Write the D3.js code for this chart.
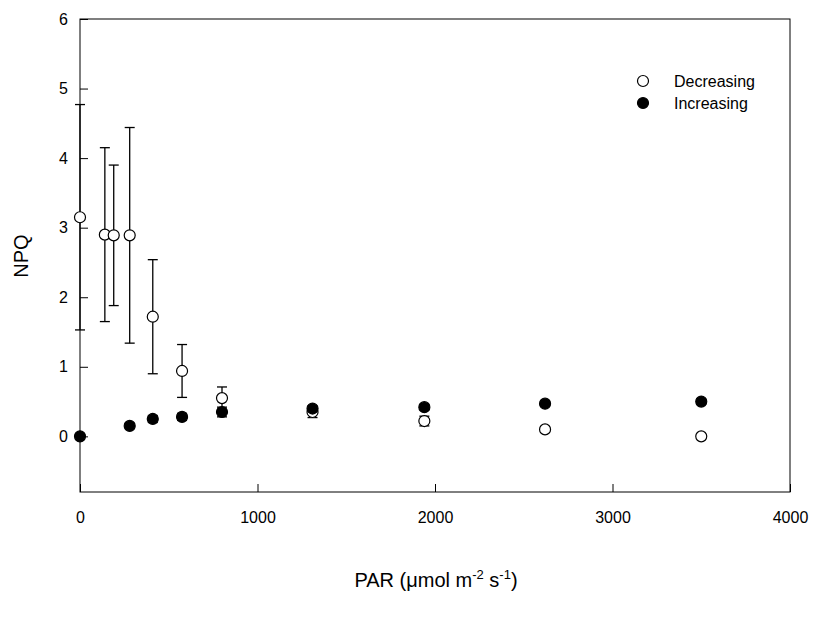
<!DOCTYPE html>
<html><head><meta charset="utf-8">
<script src="https://cdn.jsdelivr.net/npm/d3@7"></script>
<style>body{margin:0;background:#fff}text{font-family:Arial,"Liberation Sans",sans-serif}</style>
</head><body><svg id="chart" width="813" height="619"></svg>
<script>
// data
const decX = [0, 140, 190, 280, 410, 575, 800, 1310, 1940, 2620, 3500];
const decY = [3.15, 2.9, 2.89, 2.89, 1.72, 0.94, 0.55, 0.35, 0.22, 0.1, 0.0];
const decErr = [1.62, 1.25, 1.01, 1.55, 0.82, 0.38, 0.16, 0.08, 0.07, 0.03, 0.0];
const incX = [0, 280, 410, 575, 800, 1310, 1940, 2620, 3500];
const incY = [0.0, 0.15, 0.25, 0.28, 0.35, 0.4, 0.42, 0.47, 0.5];
const incErr = [0.0, 0.04, 0.05, 0.05, 0.07, 0.04, 0.04, 0.04, 0.04];
const xTicks = [0, 1000, 2000, 3000, 4000];
const yTicks = [0, 1, 2, 3, 4, 5, 6];

const svg = d3.select("#chart");
const x = d3.scaleLinear().domain([0, 4000]).range([80, 790]);
const y = d3.scaleLinear().domain([-0.8, 6]).range([492, 19]);

// frame
svg.append("rect").attr("x", 80).attr("y", 19).attr("width", 710).attr("height", 473)
  .attr("fill", "none").attr("stroke", "#000").attr("stroke-width", 1);

svg.append("g").attr("transform", "translate(0,492)")
  .call(d3.axisBottom(x).tickValues(xTicks).tickSize(-8).tickPadding(20).tickFormat(d3.format("d")))
  .call(g => g.select(".domain").remove())
  .selectAll("text").style("font-size", "16px").attr("fill", "#000");
svg.append("g").attr("transform", "translate(80,0)")
  .call(d3.axisLeft(y).tickValues(yTicks).tickSize(-8).tickPadding(12).tickFormat(d3.format("d")))
  .call(g => g.select(".domain").remove())
  .selectAll("text").style("font-size", "16px").attr("fill", "#000");

const dec = decX.map((v, i) => ({x: v, y: decY[i], e: decErr[i]}));
const inc = incX.map((v, i) => ({x: v, y: incY[i], e: incErr[i]}));

function errorBars(data) {
  const g = svg.append("g").attr("stroke", "#000").attr("stroke-width", 1.3);
  data.filter(d => d.e > 0).forEach(d => {
    const cx = x(d.x), y1 = y(d.y - d.e), y2 = y(d.y + d.e);
    g.append("line").attr("x1", cx).attr("x2", cx).attr("y1", y1).attr("y2", y2);
    g.append("line").attr("x1", cx - 5).attr("x2", cx + 5).attr("y1", y1).attr("y2", y1);
    g.append("line").attr("x1", cx - 5).attr("x2", cx + 5).attr("y1", y2).attr("y2", y2);
  });
}
errorBars(dec);
errorBars(inc);

svg.append("g").selectAll("circle").data(dec).join("circle")
  .attr("cx", d => x(d.x)).attr("cy", d => y(d.y)).attr("r", 5.5)
  .attr("fill", "#fff").attr("stroke", "#000").attr("stroke-width", 1.2);
svg.append("g").selectAll("circle").data(inc).join("circle")
  .attr("cx", d => x(d.x)).attr("cy", d => y(d.y)).attr("r", 5.5)
  .attr("fill", "#000").attr("stroke", "#000").attr("stroke-width", 1.2);

// legend
const leg = [["Decreasing", "#fff"], ["Increasing", "#000"]];
leg.forEach(([name, fill], i) => {
  svg.append("circle").attr("cx", 643).attr("cy", 81 + i * 22).attr("r", 5.5)
    .attr("fill", fill).attr("stroke", "#000").attr("stroke-width", 1.2);
  svg.append("text").attr("x", 674).attr("y", 87 + i * 22).style("font-size", "16px").text(name);
});

// axis titles
svg.append("text").attr("transform", "translate(28,256) rotate(-90)")
  .attr("text-anchor", "middle").style("font-size", "20px").text("NPQ");
const xt = svg.append("text").attr("x", 436).attr("y", 587).attr("text-anchor", "middle").style("font-size", "20px");
xt.append("tspan").text("PAR (\u03bcmol m");
xt.append("tspan").attr("dy", -8).style("font-size", "13px").text("-2");
xt.append("tspan").attr("dy", 8).text(" s");
xt.append("tspan").attr("dy", -8).style("font-size", "13px").text("-1");
xt.append("tspan").attr("dy", 8).text(")");
</script></body></html>
